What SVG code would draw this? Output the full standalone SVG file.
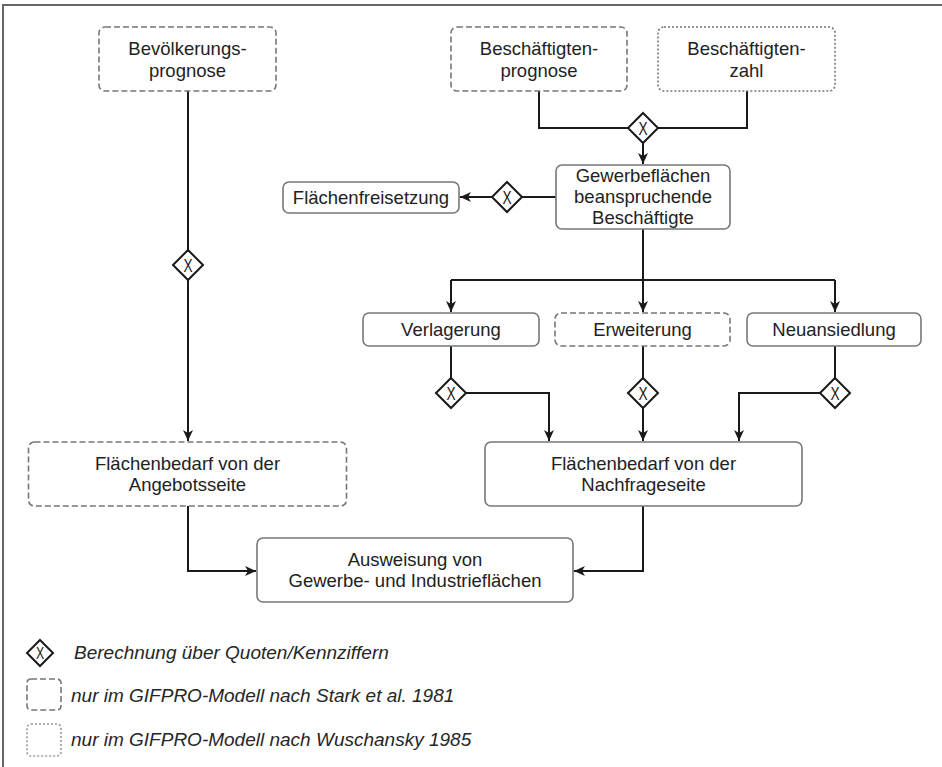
<svg xmlns="http://www.w3.org/2000/svg" width="942" height="767" viewBox="0 0 942 767">
<defs>
<marker id="arr" markerUnits="userSpaceOnUse" markerWidth="12" markerHeight="12" viewBox="0 0 12 12" refX="11" refY="6" orient="auto">
<path d="M0,1 L11,6 L0,11 L3,6 z" fill="#1a1a1a"/>
</marker>
<style>
.box{fill:#fff;stroke:#777;stroke-width:1.6}
.dash{stroke-dasharray:6 3}
.dot{stroke-dasharray:2 2}
.t{font-family:"Liberation Sans",Arial,sans-serif;font-size:18.5px;fill:#222;text-anchor:middle}
.lg{font-family:"Liberation Sans",Arial,sans-serif;font-size:19px;font-style:italic;fill:#262626}
.c{fill:none;stroke:#1a1a1a;stroke-width:2}
.ca{fill:none;stroke:#1a1a1a;stroke-width:2;marker-end:url(#arr)}
.dm{fill:#fff;stroke:#1a1a1a;stroke-width:2}
.x{font-family:"Liberation Sans",Arial,sans-serif;font-size:19px;fill:#1a1a1a;text-anchor:middle}
</style>
</defs>
<rect width="942" height="767" fill="#fff"/>
<path d="M3,767 V5 H942" fill="none" stroke="#666" stroke-width="2"/>

<g id="connectors">
<path class="c" d="M188,91 V250"/>
<path class="ca" d="M188,280 V441"/>
<path class="c" d="M539,91 V128 H628"/>
<path class="c" d="M747,91 V128 H658"/>
<path class="ca" d="M643,143 V164"/>
<path class="c" d="M556,197 H522"/>
<path class="ca" d="M492,197 H460"/>
<path class="ca" d="M643,229 V312"/>
<path class="c" d="M451,280 H835"/>
<path class="ca" d="M451,280 V312"/>
<path class="ca" d="M835,280 V312"/>
<path class="c" d="M451,346 V378"/>
<path class="ca" d="M466,393 H549 V441"/>
<path class="c" d="M643,346 V378"/>
<path class="ca" d="M643,408 V441"/>
<path class="c" d="M835,346 V378"/>
<path class="ca" d="M820,393 H739 V441"/>
<path class="ca" d="M188,506 V571 H256"/>
<path class="ca" d="M643,506 V571 H574"/>
</g>

<g id="bevoelkerungsprognose">
<rect class="box dash" x="99" y="27" width="177" height="64" rx="6"/>
<text class="t" x="187.5" y="54.5">Bevölkerungs-</text>
<text class="t" x="187.5" y="76.5">prognose</text>
</g>
<g id="beschaeftigtenprognose">
<rect class="box dash" x="451" y="27" width="176" height="64" rx="6"/>
<text class="t" x="539" y="54.5">Beschäftigten-</text>
<text class="t" x="539" y="76.5">prognose</text>
</g>
<g id="beschaeftigtenzahl">
<rect class="box dot" x="658" y="27" width="177" height="64" rx="6"/>
<text class="t" x="746.5" y="54.5">Beschäftigten-</text>
<text class="t" x="746.5" y="76.5">zahl</text>
</g>
<g id="gewerbeflaechen">
<rect class="box" x="556" y="165" width="174" height="64" rx="6"/>
<text class="t" x="643" y="182">Gewerbeflächen</text>
<text class="t" x="643" y="203">beanspruchende</text>
<text class="t" x="643" y="224">Beschäftigte</text>
</g>
<g id="flaechenfreisetzung">
<rect class="box" x="283" y="182" width="176" height="31" rx="6"/>
<text class="t" x="371" y="204">Flächenfreisetzung</text>
</g>
<g id="verlagerung">
<rect class="box" x="363" y="313" width="176" height="33" rx="6"/>
<text class="t" x="451" y="336">Verlagerung</text>
</g>
<g id="erweiterung">
<rect class="box dash" x="555" y="313" width="175" height="33" rx="6"/>
<text class="t" x="642.5" y="336">Erweiterung</text>
</g>
<g id="neuansiedlung">
<rect class="box" x="747" y="313" width="174" height="33" rx="6"/>
<text class="t" x="834" y="336">Neuansiedlung</text>
</g>
<g id="angebotsseite">
<rect class="box dash" x="28.5" y="442" width="318" height="64" rx="6"/>
<text class="t" x="187.5" y="469.5">Flächenbedarf von der</text>
<text class="t" x="187.5" y="491">Angebotsseite</text>
</g>
<g id="nachfrageseite">
<rect class="box" x="485" y="442" width="317" height="64" rx="6"/>
<text class="t" x="643.5" y="469.5">Flächenbedarf von der</text>
<text class="t" x="643.5" y="491">Nachfrageseite</text>
</g>
<g id="ausweisung">
<rect class="box" x="257" y="538" width="316" height="64" rx="6"/>
<text class="t" x="415" y="565.5">Ausweisung von</text>
<text class="t" x="415" y="587">Gewerbe- und Industrieflächen</text>
</g>

<g id="gw-bev">
<path class="dm" d="M188,250 L203,265 L188,280 L173,265 z"/>
<text class="x" transform="translate(188,265) scale(0.72,1)" y="7">X</text>
</g>
<g id="gw-top">
<path class="dm" d="M643,113 L658,128 L643,143 L628,128 z"/>
<text class="x" transform="translate(643,128) scale(0.72,1)" y="7">X</text>
</g>
<g id="gw-frei">
<path class="dm" d="M507,182 L522,197 L507,212 L492,197 z"/>
<text class="x" transform="translate(507,197) scale(0.72,1)" y="7">X</text>
</g>
<g id="gw-verl">
<path class="dm" d="M451,378 L466,393 L451,408 L436,393 z"/>
<text class="x" transform="translate(451,393) scale(0.72,1)" y="7">X</text>
</g>
<g id="gw-erw">
<path class="dm" d="M643,378 L658,393 L643,408 L628,393 z"/>
<text class="x" transform="translate(643,393) scale(0.72,1)" y="7">X</text>
</g>
<g id="gw-neu">
<path class="dm" d="M835,378 L850,393 L835,408 L820,393 z"/>
<text class="x" transform="translate(835,393) scale(0.72,1)" y="7">X</text>
</g>

<g id="legend">
<path class="dm" d="M40,640 L53,653 L40,666 L27,653 z"/>
<text class="x" transform="translate(40,653) scale(0.72,1)" y="6" style="font-size:17px">X</text>
<text class="lg" x="74" y="658.5">Berechnung über Quoten/Kennziffern</text>
<rect class="box dash" x="27" y="679" width="34" height="31" rx="4"/>
<text class="lg" x="71" y="701.5">nur im GIFPRO-Modell nach Stark et al. 1981</text>
<rect class="box dot" x="27" y="724" width="34" height="32" rx="4" style="stroke:#999"/>
<text class="lg" x="71" y="746">nur im GIFPRO-Modell nach Wuschansky 1985</text>
</g>
</svg>
